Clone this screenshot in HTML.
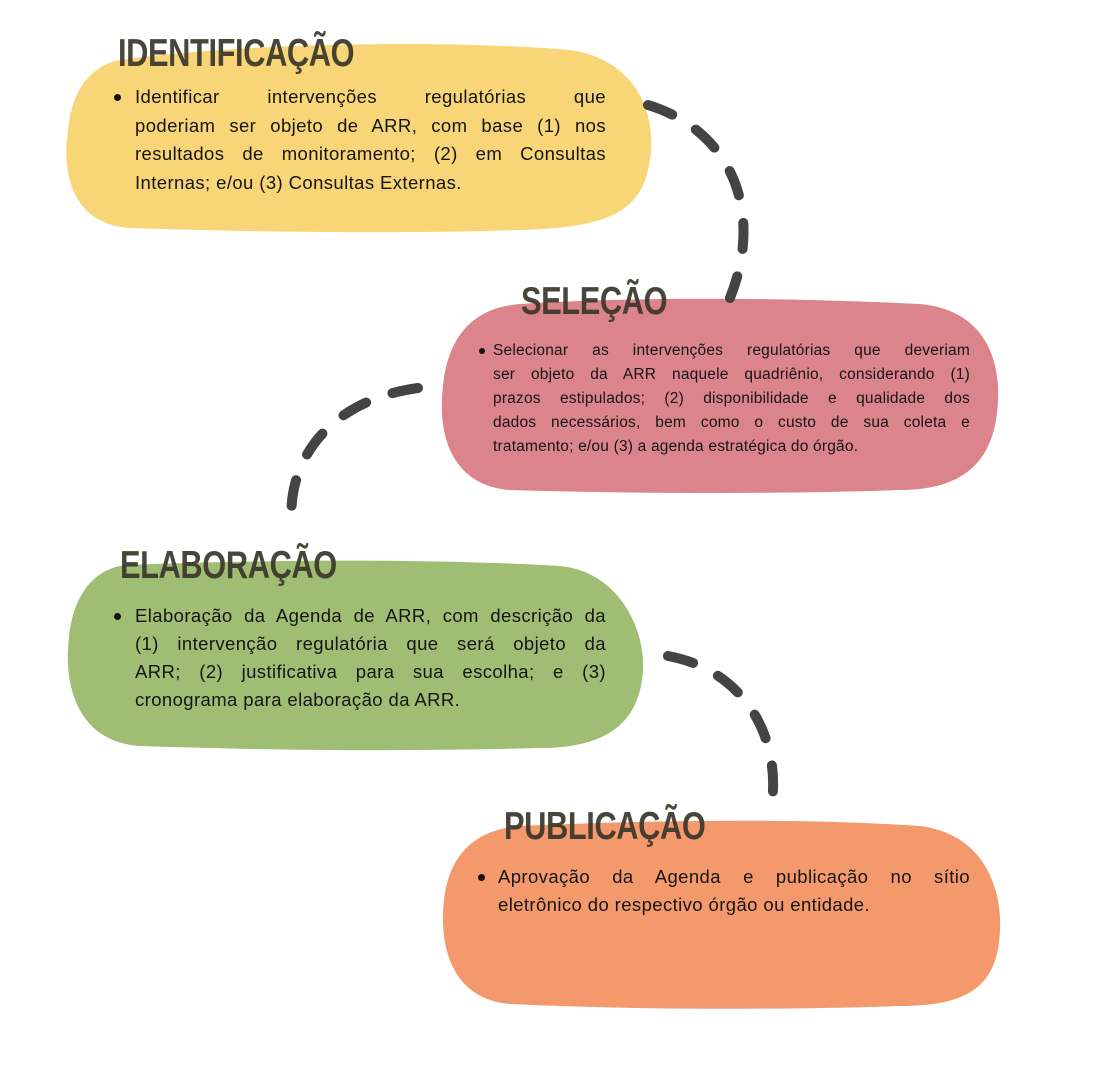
<!DOCTYPE html>
<html><head><meta charset="utf-8"><style>
html,body{margin:0;padding:0;background:#fff;}
body{width:1104px;height:1080px;position:relative;overflow:hidden;font-family:"Liberation Sans",sans-serif;}
svg{position:absolute;left:0;top:0;}
.t{position:absolute;font-family:"Liberation Sans",sans-serif;font-weight:bold;color:#3b372c;opacity:.93;font-size:39px;letter-spacing:-0.5px;transform:scale(0.79,1.0);transform-origin:left top;line-height:1;}
.b{position:absolute;color:#151515;}
.b div{text-align:justify;text-align-last:justify;white-space:nowrap;}
.b div.l{text-align-last:left;}
.dot{position:absolute;border-radius:50%;background:#111;}
</style></head><body>
<svg width="1104" height="1080" viewBox="0 0 1104 1080">
<path d="M120,60 C250,42 450,40 570,50 C640,60 660,120 648,170 C638,215 600,228 520,230 C400,234 250,232 130,228 C70,224 62,170 68,130 C72,90 90,66 120,60 Z" fill="#f8d576"/>
<path d="M520,304 C650,296 800,298 920,304 C985,310 1000,360 998,400 C996,450 975,490 900,490 C780,494 640,494 510,490 C455,486 440,440 442,400 C444,340 470,308 520,304 Z" fill="#dc848b"/>
<path d="M125,565 C260,560 420,558 560,566 C620,572 645,630 643,670 C640,720 610,748 540,748 C400,752 260,750 140,746 C80,742 66,690 68,650 C70,600 90,570 125,565 Z" fill="#a0bd74"/>
<path d="M520,826 C650,820 800,818 920,826 C985,834 1002,890 1000,930 C998,985 970,1006 900,1006 C780,1010 640,1010 510,1004 C460,1000 442,960 443,915 C444,860 470,830 520,826 Z" fill="#f4996b"/>
<g fill="none" stroke="#444" stroke-width="10" stroke-linecap="round" stroke-dasharray="26 28">
<path d="M648,105 C730,130 765,210 730,298"/>
<path d="M418,388 C330,400 285,460 292,528"/>
<path d="M668,656 C745,670 785,740 770,815"/>
</g>
</svg>
<div class="t" style="left:118px;top:34px;">IDENTIFICAÇÃO</div>
<div class="t" style="left:521px;top:282px;">SELEÇÃO</div>
<div class="t" style="left:120px;top:546px;">ELABORAÇÃO</div>
<div class="t" style="left:504px;top:807px;">PUBLICAÇÃO</div>

<div class="dot" style="left:114px;top:94px;width:7px;height:7px"></div>
<div class="b" style="left:135px;top:83px;width:471px;font-size:18.5px;line-height:28.5px;letter-spacing:0.4px">
<div>Identificar intervenções regulatórias que</div>
<div>poderiam ser objeto de ARR, com base (1) nos</div>
<div>resultados de monitoramento; (2) em Consultas</div>
<div class="l">Internas; e/ou (3) Consultas Externas.</div>
</div>

<div class="dot" style="left:479px;top:348px;width:6px;height:6px"></div>
<div class="b" style="left:493px;top:339px;width:477px;font-size:15.5px;line-height:24px;letter-spacing:0.2px">
<div>Selecionar as intervenções regulatórias que deveriam</div>
<div>ser objeto da ARR naquele quadriênio, considerando (1)</div>
<div>prazos estipulados; (2) disponibilidade e qualidade dos</div>
<div>dados necessários, bem como o custo de sua coleta e</div>
<div class="l">tratamento; e/ou (3) a agenda estratégica do órgão.</div>
</div>

<div class="dot" style="left:114px;top:613px;width:7px;height:7px"></div>
<div class="b" style="left:135px;top:602px;width:471px;font-size:18.5px;line-height:28px;letter-spacing:0.4px">
<div>Elaboração da Agenda de ARR, com descrição da</div>
<div>(1) intervenção regulatória que será objeto da</div>
<div>ARR; (2) justificativa para sua escolha; e (3)</div>
<div class="l">cronograma para elaboração da ARR.</div>
</div>

<div class="dot" style="left:478px;top:874px;width:7px;height:7px"></div>
<div class="b" style="left:498px;top:863px;width:472px;font-size:18.5px;line-height:28px;letter-spacing:0.4px">
<div>Aprovação da Agenda e publicação no sítio</div>
<div class="l">eletrônico do respectivo órgão ou entidade.</div>
</div>
</body></html>
